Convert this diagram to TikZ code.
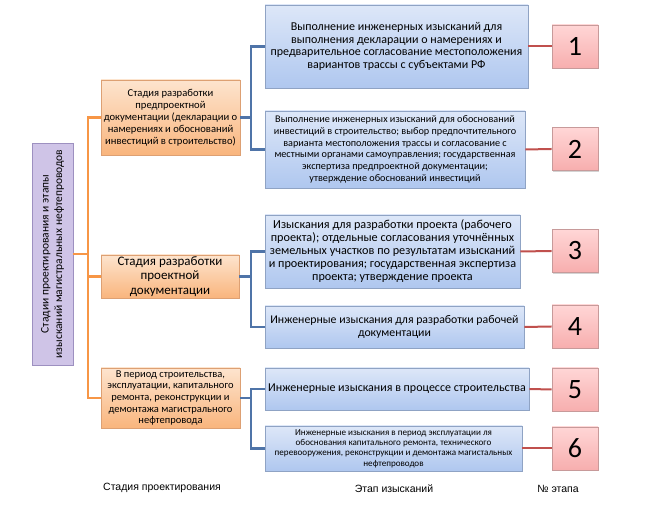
\documentclass[tikz,border=0pt]{standalone}
\usepackage{fontspec}
\setmainfont{Carlito}
\newfontfamily\labelfont{Liberation Sans}
\usepackage{tikz}
\usetikzlibrary{shadows}

\definecolor{orangeTop}{HTML}{FDE4CE}
\definecolor{orangeBot}{HTML}{F9B57D}
\definecolor{orangeEdge}{HTML}{DDA073}
\definecolor{orangeLine}{HTML}{F79646}
\definecolor{blueTop}{HTML}{DDE7F8}
\definecolor{blueBot}{HTML}{AFC7EF}
\definecolor{blueEdge}{HTML}{8FA3C4}
\definecolor{blueLine}{HTML}{4F74A8}
\definecolor{redTop}{HTML}{FFD6D6}
\definecolor{redBot}{HTML}{F7AEAE}
\definecolor{redEdge}{HTML}{C79A9A}
\definecolor{redLine}{HTML}{C0504D}
\definecolor{purpFill}{HTML}{CFC4E7}
\definecolor{purpEdge}{HTML}{9D90C0}

\tikzset{
    box/.style={draw, line width=0.6pt, inner sep=1pt, align=center,
        drop shadow={shadow xshift=1.2pt, shadow yshift=-1.5pt, opacity=0.35}},
    stagebox/.style={box, draw=orangeEdge, top color=orangeTop, bottom color=orangeBot},
    surveybox/.style={box, draw=blueEdge, top color=blueTop, bottom color=blueBot},
    numbox/.style={box, draw=redEdge, top color=redTop, bottom color=redBot,
        minimum width=46, minimum height=43, font=\fontsize{28}{30}\selectfont},
    rootbox/.style={box, draw=purpEdge, fill=purpFill},
    oline/.style={orangeLine, line width=2.4pt},
    bline/.style={blueLine, line width=2.4pt},
    rline/.style={redLine, line width=2pt},
    caption/.style={font=\labelfont\fontsize{10.5}{12}\selectfont}
}

\begin{document}
\begin{tikzpicture}[x=1pt, y=1pt]
        \useasboundingbox (0,0) rectangle (647,518);

        % Root
        \node[rootbox, rotate=90, minimum width=222, minimum height=41,
            font=\fontsize{11.5}{13.5}\selectfont] (root) at (52.5,264)
            {Стадии проектирования и этапы\\изысканий магистральных нефтепроводов};

        % Stages
        \node[stagebox, minimum width=139, minimum height=75,
            font=\fontsize{10.6}{12}\selectfont] (pre) at (170.5,400.5)
            {Стадия разработки\\предпроектной\\документации (декларации о\\намерениях и обоснований\\инвестиций в строительство)};
        \node[stagebox, minimum width=138, minimum height=43,
            font=\fontsize{13}{14.3}\selectfont] (proj) at (170,241.5)
            {Стадия разработки\\проектной\\документации};
        \node[stagebox, minimum width=139, minimum height=60,
            font=\fontsize{10.5}{11.7}\selectfont] (build) at (170.5,120)
            {В период строительства,\\эксплуатации, капитального\\ремонта, реконструкции и\\демонтажа магистрального\\нефтепровода};

        % Surveys
        \node[surveybox, minimum width=263, minimum height=83,
            font=\fontsize{12}{12.4}\selectfont] (sv1) at (396.5,471.5)
            {Выполнение инженерных изысканий для\\выполнения декларации о намерениях и\\предварительное согласование местоположения\\вариантов трассы с субъектами РФ};
        \node[surveybox, minimum width=260, minimum height=77,
            font=\fontsize{10.2}{11.7}\selectfont] (sv2) at (395,368.5)
            {Выполнение инженерных изысканий для обоснований\\инвестиций в строительство; выбор предпочтительного\\варианта местоположения трассы и согласование с\\местными органами самоуправления; государственная\\экспертиза предпроектной документации;\\утверждение обоснований инвестиций};
        \node[surveybox, minimum width=255, minimum height=73,
            font=\fontsize{12.2}{13}\selectfont] (sv3) at (392.5,266.5)
            {Изыскания для разработки проекта (рабочего\\проекта); отдельные согласования уточнённых\\земельных участков по результатам изысканий\\и проектирования; государственная экспертиза\\проекта; утверждение проекта};
        \node[surveybox, minimum width=259, minimum height=42,
            font=\fontsize{11.8}{12.5}\selectfont] (sv4) at (394.5,191)
            {Инженерные изыскания для разработки рабочей\\документации};
        \node[surveybox, minimum width=264, minimum height=42,
            font=\fontsize{12}{13}\selectfont] (sv5) at (397,129)
            {Инженерные изыскания в процессе строительства};
        \node[surveybox, minimum width=257, minimum height=45,
            font=\fontsize{9.1}{10.3}\selectfont] (sv6) at (393.5,69.5)
            {Инженерные изыскания в период эксплуатации ля\\обоснования капитального ремонта, технического\\перевооружения, реконструкции и демонтажа магистальных\\нефтепроводов};

        % Stage numbers
        \foreach \i/\y in {1/471.5, 2/369, 3/267, 4/191.5, 5/128.5, 6/69.5} {
            \node[numbox] (n\i) at (575,\y) {\i};
            \draw[rline] (sv\i.east) -- (n\i.west);
        }

        % Root to stages
        \coordinate (oj) at (88,264);
        \draw[oline] (root.south) -- (oj);
        \foreach \s in {pre, proj, build}
            \draw[oline] (oj) |- (\s.west);

        % Stages to surveys
        \coordinate (bj1) at (251,400.5);
        \coordinate (bj2) at (251,241.5);
        \coordinate (bj3) at (251,120);
        \draw[bline] (pre.east) -- (bj1);
        \draw[bline] (proj.east) -- (bj2);
        \draw[bline] (build.east) -- (bj3);
        \draw[bline] (bj1) |- (sv1.west);
        \draw[bline] (bj1) |- (sv2.west);
        \draw[bline] (bj2) |- (sv3.west);
        \draw[bline] (bj2) |- (sv4.west);
        \draw[bline] (bj3) |- (sv5.west);
        \draw[bline] (bj3) |- (sv6.west);

        % Column captions
        \node[caption] (capStage) at (162,30) {Стадия проектирования};
        \node[caption] (capSurvey) at (394,29) {Этап изысканий};
        \node[caption] (capNum) at (558,29) {№ этапа};
\end{tikzpicture}
\end{document}
